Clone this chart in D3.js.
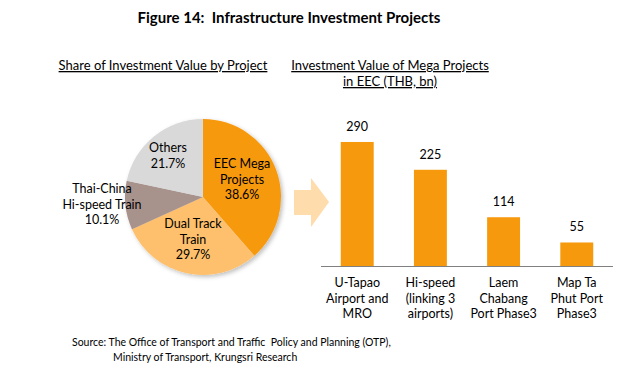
<!DOCTYPE html>
<html><head><meta charset="utf-8">
<script src="https://cdn.jsdelivr.net/npm/d3@7"></script>
<style>
html,body{margin:0;padding:0;background:#fff;}
svg text{font-family:Lato,"Open Sans",sans-serif;fill:#000;white-space:pre;}
</style></head>
<body>
<svg id="c" width="633" height="382"></svg>
<script>
const title = "Figure 14:  Infrastructure Investment Projects";
const pieTitle = "Share of Investment Value by Project";
const barTitle = ["Investment Value of Mega Projects", "in EEC (THB, bn)"];
const pieNames = [["EEC Mega","Projects"],["Dual Track","Train"],["Thai-China","Hi-speed Train"],["Others"]];
const pieValues = [38.6, 29.7, 10.1, 21.7];
const pieColors = ["#F7990C", "#FEC06C", "#A8928C", "#D9D9D9"];
const barNames = [["U-Tapao","Airport and","MRO"],["Hi-speed","(linking 3","airports)"],["Laem","Chabang","Port Phase3"],["Map Ta","Phut Port","Phase3"]];
const barValues = [290, 225, 114, 55];
const sourceLines = ["Source: The Office of Transport and Traffic  Policy and Planning (OTP),", "Ministry of Transport, Krungsri Research"];

const svg = d3.select("#c");

svg.append("text").attr("x", 289).attr("y", 23).attr("text-anchor","middle")
  .attr("font-size", 15).attr("font-weight","bold").text(title);

svg.append("text").attr("x", 163).attr("y", 70).attr("text-anchor","middle")
  .attr("font-size", 13).attr("text-decoration","underline").text(pieTitle);
barTitle.forEach((t,i)=>svg.append("text").attr("x", 390).attr("y", 70 + i*16).attr("text-anchor","middle")
  .attr("font-size", 13).attr("text-decoration","underline").text(t));

// pie
const cx = 203, cy = 197, R = 78;
const defs = svg.append("defs");
const f = defs.append("filter").attr("id","sh").attr("x","-20%").attr("y","-20%").attr("width","140%").attr("height","140%");
f.append("feDropShadow").attr("dx",2).attr("dy",2).attr("stdDeviation",2).attr("flood-color","#000").attr("flood-opacity",0.25);
const pieG = svg.append("g").attr("transform",`translate(${cx},${cy})`);
const arcs = d3.pie().sort(null).value(d=>d)(pieValues);
const arc = d3.arc().innerRadius(0).outerRadius(R);
pieG.append("g").attr("filter","url(#sh)").selectAll("path").data(arcs).join("path")
  .attr("d", arc).attr("fill",(d,i)=>pieColors[i]);

const labelPos = [[39,-29],[-10,31],[-101,-4],[-35,-45]];
arcs.forEach((d,i)=>{
  const lines = pieNames[i].concat([d3.format(".1f")(pieValues[i])+"%"]);
  const t = pieG.append("text").attr("text-anchor","middle").attr("font-size",12.5);
  lines.forEach((l,j)=>t.append("tspan").attr("x",labelPos[i][0]).attr("y",labelPos[i][1]+j*15.5).text(l));
});

// arrow
svg.append("path").attr("d","M294,190 L311,190 L311,178 L329,202 L311,227 L311,215 L294,215 Z")
  .attr("fill","#FEDCAC");

// bars
const x = d3.scaleBand().domain(barValues.map((d,i)=>i)).range([321, 613]).paddingInner(0.55).paddingOuter(0.27);
const y = d3.scaleLinear().domain([0, 300]).range([266, 137.7]);
svg.selectAll("rect.bar").data(barValues).join("rect").attr("class","bar")
  .attr("x",(d,i)=>x(i)).attr("width",x.bandwidth()).attr("y",d=>y(d)).attr("height",d=>y(0)-y(d))
  .attr("fill","#F7990C");
svg.selectAll("text.val").data(barValues).join("text").attr("class","val")
  .attr("x",(d,i)=>x(i)+x.bandwidth()/2).attr("y",d=>y(d)-11).attr("text-anchor","middle")
  .attr("font-size",12.5).text(d=>d);
const xAxis = svg.append("g").attr("transform",`translate(0,${y(0)})`).call(d3.axisBottom(x).tickSize(0).tickFormat(""));
xAxis.select(".domain").attr("stroke","#808080").attr("d","M321,0.5H613");
barNames.forEach((ls,i)=>{
  const t = svg.append("text").attr("text-anchor","middle").attr("font-size",12.5);
  ls.forEach((l,j)=>t.append("tspan").attr("x",x(i)+x.bandwidth()/2).attr("y",287+j*15.5).text(l));
});

// source
svg.append("text").attr("x",72).attr("y",346).attr("font-size",10.5).text(sourceLines[0]);
svg.append("text").attr("x",113).attr("y",361).attr("font-size",10.5).text(sourceLines[1]);
</script>
</body></html>
